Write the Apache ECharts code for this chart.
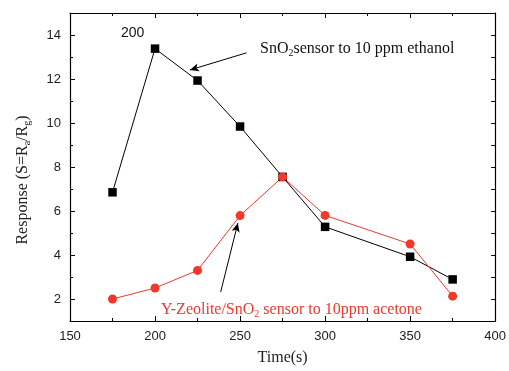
<!DOCTYPE html>
<html>
<head>
<meta charset="utf-8">
<script src="https://cdn.jsdelivr.net/npm/echarts@6/dist/echarts.min.js"></script>
<style>html,body{margin:0;padding:0;background:#fff}#c{width:509px;height:371px}</style>
</head>
<body>
<div id="c"></div>
<script>
const times = [175, 200, 225, 250, 275, 300, 350, 375];
const snO2Ethanol = [6.85, 13.38, 11.93, 9.84, 7.55, 5.28, 3.92, 2.89];
const zeoliteAcetone = [2.0, 2.5, 3.3, 5.79, 7.55, 5.8, 4.5, 2.13];
const yMajorTicks = [2, 4, 6, 8, 10, 12, 14];
const yMinorTicks = [1, 3, 5, 7, 9, 11, 13, 15];
const arrowEthanol = [[253.8, 13.19], [220.5, 12.41]];
const arrowAcetone = [[238.6, 2.32], [248.7, 5.45]];

const RED = '#f2382c';
const serif = '"Liberation Serif", "Times New Roman", serif';
const sans = '"Liberation Sans", Arial, sans-serif';

const chart = echarts.init(document.getElementById('c'), null, {renderer: 'canvas'});
const axLine = {show: true, lineStyle: {color: '#000', width: 1.2}};
function pair(a, b) { return a.map((v, i) => [v, b[i]]); }

const option = {
  animation: false,
  backgroundColor: '#fff',
  grid: {left: 70, right: 11, top: 13, bottom: 43},
  xAxis: [
    {
      type: 'value', position: 'bottom', min: 150, max: 400, interval: 50,
      axisLine: axLine,
      axisTick: {inside: true, length: 5, lineStyle: {color: '#000'}},
      minorTick: {show: true, splitNumber: 2, length: 3, lineStyle: {color: '#000'}},
      splitLine: {show: false},
      axisLabel: {color: '#222', fontFamily: sans, fontSize: 13, margin: 9},
      name: 'Time(s)', nameLocation: 'middle', nameGap: 29,
      nameTextStyle: {fontFamily: serif, fontSize: 16, color: '#222'}
    },
    {
      type: 'value', position: 'top', min: 150, max: 400, interval: 50,
      axisLine: axLine,
      axisTick: {inside: true, length: 5, lineStyle: {color: '#000'}},
      minorTick: {show: true, splitNumber: 2, length: 3, lineStyle: {color: '#000'}},
      splitLine: {show: false}, axisLabel: {show: false}
    }
  ],
  yAxis: [
    {
      type: 'value', position: 'left', min: 1, max: 15, interval: 1,
      axisLine: axLine,
      axisTick: {inside: true, length: 5, customValues: yMajorTicks, lineStyle: {color: '#000'}},
      splitLine: {show: false},
      axisLabel: {color: '#222', fontFamily: sans, fontSize: 13, margin: 9, customValues: yMajorTicks}
    },
    {
      type: 'value', position: 'left', min: 1, max: 15, interval: 1,
      axisLine: {show: false},
      axisTick: {inside: true, length: 3, customValues: yMinorTicks, lineStyle: {color: '#000'}},
      splitLine: {show: false}, axisLabel: {show: false}
    },
    {
      type: 'value', position: 'right', min: 1, max: 15, interval: 1,
      axisLine: axLine,
      axisTick: {inside: true, length: 4, lineStyle: {color: '#000'}},
      splitLine: {show: false}, axisLabel: {show: false}
    }
  ],
  series: [
    {
      type: 'line', name: 'SnO2 ethanol', data: pair(times, snO2Ethanol),
      xAxisIndex: 0, yAxisIndex: 0,
      symbol: 'rect', symbolSize: 8.5,
      lineStyle: {color: '#000', width: 1}, itemStyle: {color: '#000'},
      markLine: {
        silent: true, symbol: ['none', 'arrow'], symbolSize: [6, 9],
        lineStyle: {color: '#000', width: 1, type: 'solid'}, label: {show: false},
        data: [[{coord: arrowEthanol[0]}, {coord: arrowEthanol[1]}]]
      }
    },
    {
      type: 'line', name: 'Zeolite acetone', data: pair(times, zeoliteAcetone),
      xAxisIndex: 0, yAxisIndex: 0,
      symbol: 'circle', symbolSize: 9,
      lineStyle: {color: RED, width: 1}, itemStyle: {color: RED},
      markLine: {
        silent: true, symbol: ['none', 'arrow'], symbolSize: [6, 9],
        lineStyle: {color: '#000', width: 1, type: 'solid'}, label: {show: false},
        data: [[{coord: arrowAcetone[0]}, {coord: arrowAcetone[1]}]]
      }
    }
  ],
  graphic: [
    {type: 'text', x: 23, y: 180, rotation: Math.PI / 2, style: {
      text: '{n|Response (S=R}{s|a}{n|/R}{s|g}{n|)}',
      align: 'center', verticalAlign: 'middle',
      rich: {
        n: {fontFamily: serif, fontSize: 16, fill: '#222'},
        s: {fontFamily: serif, fontSize: 10, fill: '#222', padding: [8, 0, 0, 0]}
      }
    }},
    {type: 'text', left: 121, top: 26, style: {text: '200', fontFamily: sans, fontSize: 14, fill: '#111'}},
    {type: 'text', left: 260, top: 41, style: {
      text: '{n|SnO}{s|2}{n|sensor to 10 ppm ethanol}',
      rich: {
        n: {fontFamily: serif, fontSize: 16, fill: '#111'},
        s: {fontFamily: serif, fontSize: 10, fill: '#111', padding: [8, 0, 0, 0]}
      }
    }},
    {type: 'text', left: 161, top: 302, style: {
      text: '{n|Y-Zeolite/SnO}{s|2}{n| sensor to 10ppm acetone}',
      rich: {
        n: {fontFamily: serif, fontSize: 16, fill: RED},
        s: {fontFamily: serif, fontSize: 10, fill: RED, padding: [8, 0, 0, 0]}
      }
    }}
  ]
};
chart.setOption(option);
</script>
</body>
</html>
